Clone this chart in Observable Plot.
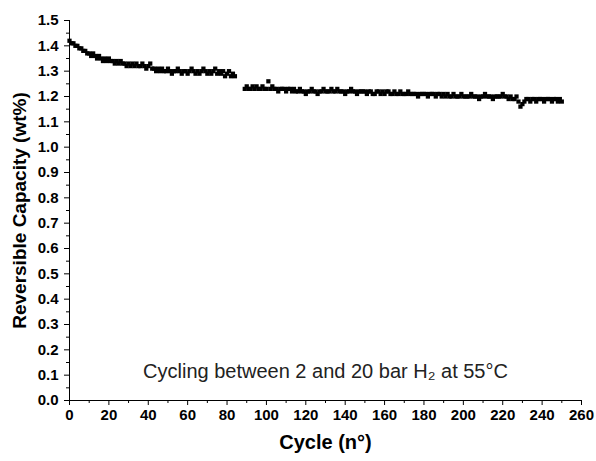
<!DOCTYPE html>
<html>
<head>
<meta charset="utf-8">
<script src="https://cdn.jsdelivr.net/npm/d3@7"></script>
<script src="https://cdn.jsdelivr.net/npm/@observablehq/plot@0.6"></script>
<style>
  html, body { margin: 0; padding: 0; background: #fff; }
  #chart svg { font-family: "Liberation Sans", Arial, sans-serif; }
</style>
</head>
<body>
<div id="chart"></div>
<script>
// Segment 1: cycles 0..84
const cyclesA = d3.range(0, 85);
const capacityA = [
  1.42, 1.41, 1.41, 1.40, 1.40, 1.39, 1.39, 1.38, 1.38, 1.37,
  1.37, 1.36, 1.37, 1.36, 1.35, 1.36, 1.35, 1.34, 1.35, 1.34,
  1.35, 1.34, 1.34, 1.33, 1.34, 1.33, 1.34, 1.33, 1.33, 1.32,
  1.33, 1.32, 1.33, 1.32, 1.33, 1.32, 1.32, 1.33, 1.32, 1.31,
  1.32, 1.33, 1.31, 1.31, 1.30, 1.31, 1.30, 1.31, 1.30, 1.30,
  1.31, 1.30, 1.29, 1.30, 1.30, 1.31, 1.30, 1.29, 1.30, 1.30,
  1.29, 1.30, 1.31, 1.30, 1.29, 1.30, 1.29, 1.30, 1.31, 1.30,
  1.29, 1.30, 1.29, 1.30, 1.31, 1.29, 1.30, 1.29, 1.30, 1.28,
  1.29, 1.30, 1.28, 1.29, 1.28
];
// Segment 2: cycles 89..250
const cyclesB = d3.range(89, 251);
const capacityB = [
  1.23, 1.24, 1.23, 1.23, 1.24, 1.23, 1.24, 1.23, 1.23, 1.24,
  1.23, 1.23, 1.26, 1.23, 1.24, 1.23, 1.23, 1.22, 1.23, 1.23,
  1.23, 1.22, 1.23, 1.23, 1.22, 1.23, 1.22, 1.22, 1.23, 1.22,
  1.22, 1.21, 1.22, 1.22, 1.23, 1.22, 1.22, 1.21, 1.22, 1.22,
  1.23, 1.22, 1.22, 1.22, 1.23, 1.22, 1.22, 1.23, 1.22, 1.22,
  1.22, 1.21, 1.22, 1.22, 1.23, 1.22, 1.22, 1.21, 1.22, 1.22,
  1.22, 1.22, 1.21, 1.22, 1.22, 1.21, 1.21, 1.22, 1.22, 1.21,
  1.22, 1.21, 1.22, 1.22, 1.21, 1.21, 1.22, 1.21, 1.21, 1.22,
  1.21, 1.21, 1.21, 1.22, 1.21, 1.21, 1.21, 1.21, 1.20, 1.21,
  1.21, 1.21, 1.21, 1.20, 1.21, 1.21, 1.21, 1.20, 1.21, 1.21,
  1.20, 1.21, 1.20, 1.21, 1.20, 1.20, 1.21, 1.20, 1.20, 1.20,
  1.21, 1.20, 1.20, 1.20, 1.20, 1.21, 1.20, 1.20, 1.20, 1.19,
  1.20, 1.20, 1.21, 1.20, 1.20, 1.20, 1.19, 1.20, 1.20, 1.20,
  1.20, 1.21, 1.20, 1.20, 1.19, 1.20, 1.19, 1.19, 1.20, 1.18,
  1.16, 1.17, 1.18, 1.19, 1.19, 1.18, 1.19, 1.19, 1.18, 1.19,
  1.19, 1.19, 1.18, 1.19, 1.19, 1.19, 1.18, 1.19, 1.19, 1.18,
  1.19, 1.18
];

const xTicks = d3.range(0, 261, 20);
const xMinor = d3.range(10, 261, 20);
const yTicks = d3.range(0, 16).map(i => i / 10);
const yMinor = d3.range(0, 15).map(i => (2 * i + 1) / 20);

const xLabel = "Cycle (n°)";
const yLabel = "Reversible Capacity (wt%)";
const note = "Cycling between 2 and 20 bar H₂ at 55°C";

const data = [
  ...cyclesA.map((c, i) => ({cycle: c, cap: capacityA[i]})),
  ...cyclesB.map((c, i) => ({cycle: c, cap: capacityB[i]}))
];

const chart = Plot.plot({
  width: 596,
  height: 461,
  marginLeft: 69,
  marginRight: 15,
  marginTop: 20,
  marginBottom: 61,
  style: {fontFamily: "'Liberation Sans', Arial, sans-serif", color: "#000", background: "#fff"},
  x: {domain: [0, 260]},
  y: {domain: [0, 1.5]},
  marks: [
    Plot.axisX({ticks: xMinor, tickSize: 3, tickFormat: () => "", label: null}),
    Plot.axisX({ticks: xTicks, tickSize: 5, tickPadding: 4, tickFormat: d3.format("d"),
      fontSize: 15, fontWeight: "bold", label: null}),
    Plot.axisY({ticks: yMinor, tickSize: 3, tickFormat: () => "", label: null}),
    Plot.axisY({ticks: yTicks, tickSize: 5, tickPadding: 6, tickFormat: d3.format(".1f"),
      fontSize: 15, fontWeight: "bold", label: null}),
    Plot.ruleX([0], {stroke: "#000", strokeWidth: 1}),
    Plot.ruleY([0], {stroke: "#000", strokeWidth: 1}),
    Plot.dot(data, {x: "cycle", y: "cap", symbol: "square", r: 2.4, fill: "#000", stroke: "none"}),
    Plot.text([note], {x: 130, y: 0.115, fontSize: 20, fill: "#222"}),
    Plot.text([xLabel], {frameAnchor: "bottom", dy: 48, fontSize: 20, fontWeight: "bold"}),
    Plot.text([yLabel], {frameAnchor: "left", textAnchor: "middle", dx: -50, rotate: -90,
      fontSize: 19, fontWeight: "bold"})
  ]
});
document.getElementById("chart").appendChild(chart);
</script>
</body>
</html>
